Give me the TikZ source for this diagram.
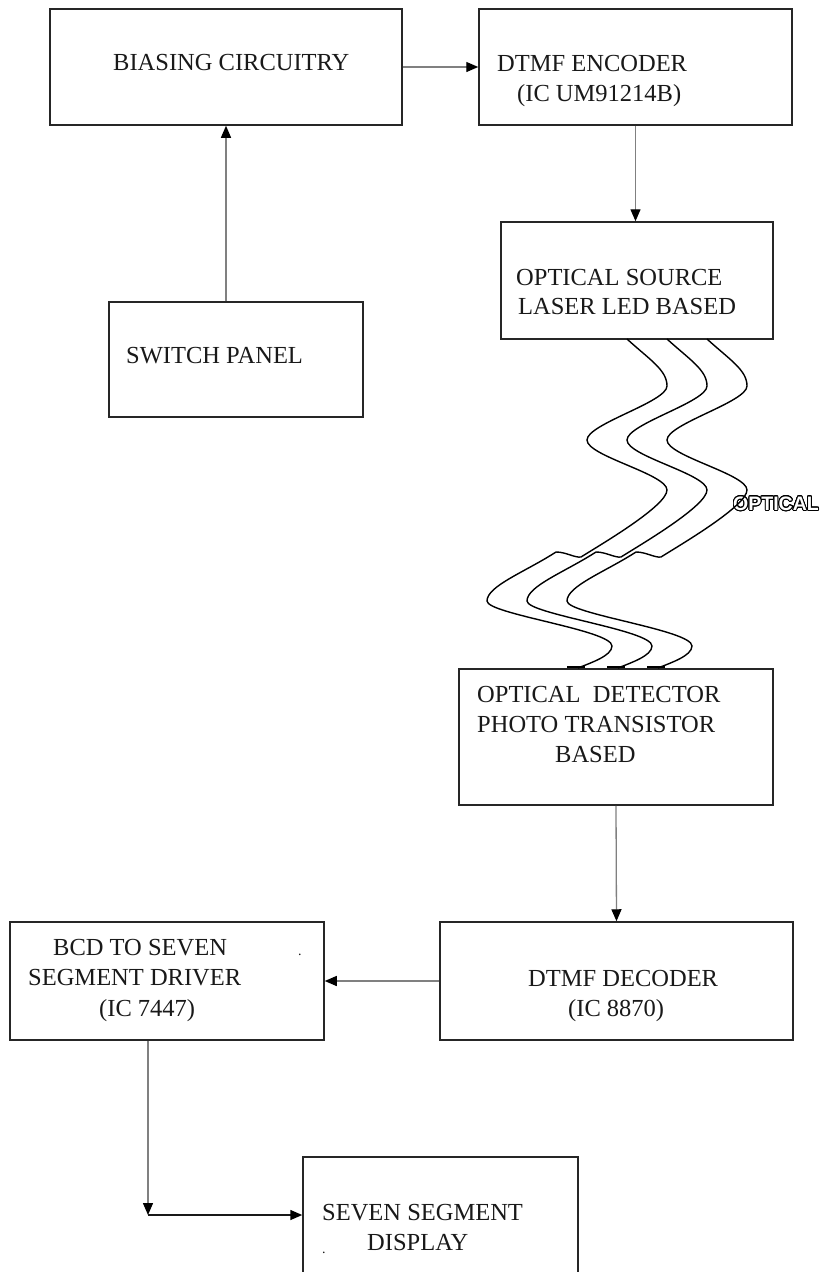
\documentclass[tikz,border=0pt]{standalone}
\usepackage{fontspec}
\setmainfont{Liberation Serif}
\newfontfamily\opticfont{Liberation Sans Bold}
\usepackage{contour}
\contourlength{0.9pt}
\contournumber{24}
\usetikzlibrary{arrows.meta}
\begin{document}
\begin{tikzpicture}[x=1pt,y=-1pt,
  blk/.style={draw=black!85, line width=1.5pt, inner sep=0pt, fill=none},
  conn/.style={draw=black!50, line width=1.3pt, -{Triangle[length=12pt,width=10pt,color=black]}},
  connk/.style={draw=black!90, line width=1.5pt, -{Triangle[length=12pt,width=10pt,color=black]}},
  fiber/.style={draw=black, line width=1.4pt},
  tick/.style={draw=black, line width=1.4pt},
  lbl/.style={anchor=base west, inner sep=0pt, text=black!90, font=\fontsize{24.5}{29}\selectfont},
  optlbl/.style={anchor=west, inner sep=0pt, text=white, font=\opticfont\fontsize{19.5}{24}\selectfont}]
\useasboundingbox (0,0) rectangle (823,1272);
\clip (0,0) rectangle (823,1272);
\fill[white] (0,0) rectangle (823,1272);

% boxes
\node[blk, minimum width=352pt, minimum height=116pt] (bias) at (226,67) {};
\node[blk, minimum width=313pt, minimum height=116pt] (enc) at (635.5,67) {};
\node[blk, minimum width=254pt, minimum height=115pt] (sw) at (236,359.5) {};
\node[blk, minimum width=272pt, minimum height=117pt] (src) at (637,280.5) {};
\node[blk, minimum width=314pt, minimum height=136pt] (det) at (616,737) {};
\node[blk, minimum width=353pt, minimum height=118pt] (dec) at (616.5,981) {};
\node[blk, minimum width=314pt, minimum height=118pt] (bcd) at (167,981) {};
\node[blk, minimum width=275pt, minimum height=140pt] (seg) at (440.5,1227) {};

% texts
\node[lbl] (tbias) at (113,70) {BIASING CIRCUITRY};
\node[lbl] (tenc1) at (497,71) {DTMF ENCODER};
\node[lbl] (tenc2) at (517,101) {(IC UM91214B)};
\node[lbl] (tsrc1) at (516,285) {OPTICAL SOURCE};
\node[lbl] (tsrc2) at (518,314) {LASER LED BASED};
\node[lbl] (tsw) at (126,363) {SWITCH PANEL};
\node[lbl] (tdet1) at (477,702) {OPTICAL\ \ DETECTOR};
\node[lbl] (tdet2) at (477,732) {PHOTO TRANSISTOR};
\node[lbl] (tdet3) at (555,762) {BASED};
\node[lbl] (tdec1) at (528,986) {DTMF DECODER};
\node[lbl] (tdec2) at (568,1016) {(IC 8870)};
\node[lbl] (tbcd1) at (53,955) {BCD TO SEVEN};
\node[lbl] (tbcd2) at (28,985) {SEGMENT DRIVER};
\node[lbl] (tbcd3) at (99,1016) {(IC 7447)};
\node[lbl, font=\fontsize{14}{16}\selectfont] (dot1) at (298,955) {.};
\node[lbl] (tseg1) at (322,1220) {SEVEN SEGMENT};
\node[lbl] (tseg2) at (367,1250) {DISPLAY};
\node[lbl, font=\fontsize{14}{16}\selectfont] (dot2) at (322,1253) {.};
\node[optlbl] (topt) at (733,504) {\contour{black}{OPTICAL}};

% connectors
\draw[conn] (bias.east) -- (enc.west);
\draw[conn] (bias.south |- sw.north) -- (bias.south);
\draw[conn] (enc.south) -- (enc.south |- src.north);
\draw[conn] (det.south) -- (dec.north);
\draw[conn] (dec.west) -- (dec.west -| bcd.east);
\coordinate (corner) at (148,1215);
\draw[conn] (corner |- bcd.south) -- (corner);
\draw[connk] (corner) -- (corner -| seg.west);

% optical fibres
\foreach \d in {0,40,80}{
  \draw[fiber] (627+\d,339)
    .. controls (650+\d,360) and (667+\d,370) .. (667+\d,386)
    .. controls (667+\d,402) and (587+\d,424) .. (587+\d,440)
    .. controls (587+\d,456) and (667+\d,474) .. (667+\d,490)
    .. controls (667+\d,506) and (600+\d,545) .. (581+\d,557)
    .. controls (575+\d,558) and (566+\d,552) .. (556+\d,552)
    .. controls (525+\d,572) and (487+\d,586) .. (487+\d,601)
    .. controls (487+\d,614) and (612+\d,630) .. (612+\d,646)
    .. controls (612+\d,656) and (590+\d,663) .. (578+\d,668);
  \draw[tick] (567+\d,667) -- (585+\d,667);
}
\end{tikzpicture}
\end{document}
